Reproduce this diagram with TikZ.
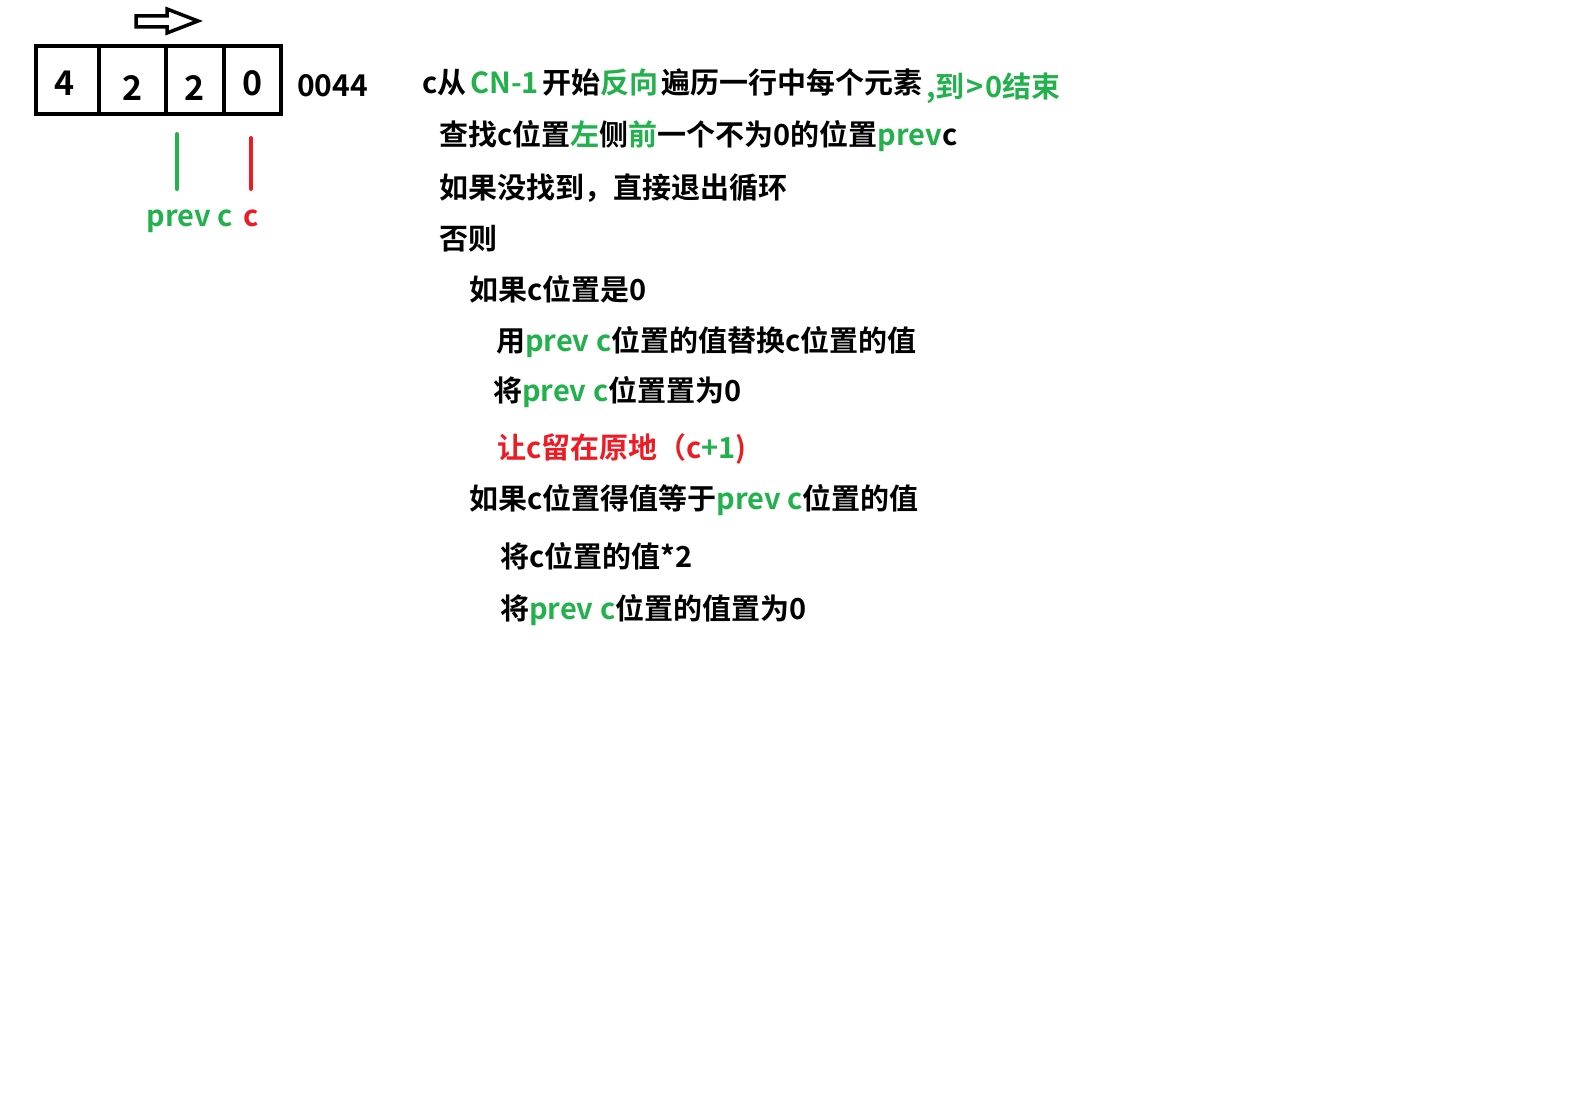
\documentclass[tikz,border=0pt]{standalone}
\usepackage{fontspec}
\setmainfont{Noto Sans CJK SC}[BoldFont={Noto Sans CJK SC Bold}]
\usetikzlibrary{positioning}
\definecolor{pgreen}{RGB}{34,177,76}
\definecolor{pred}{RGB}{237,28,36}
\newcommand{\gr}[1]{\textcolor{pgreen}{#1}}
\newcommand{\rd}[1]{\textcolor{pred}{#1}}

\begin{document}
\begin{tikzpicture}[x=1pt, y=-1pt,
    cell/.style={draw, line width=4pt, minimum height=68pt, inner sep=0pt},
    num/.style={font=\fontsize{34}{40}\selectfont\bfseries, inner sep=0pt},
    txt/.style={anchor=base west, inner sep=0pt, font=\fontsize{29}{34}\selectfont\bfseries},
    marker/.style={line width=4pt, line cap=round}]

    \useasboundingbox (0,0) rectangle (1586,1094);

    % the row of cells
    \node[cell, minimum width=63pt] (c1) at (67.5,80) {};
    \node[cell, minimum width=67pt] (c2) at (132.5,80) {};
    \node[cell, minimum width=58pt] (c3) at (195,80) {};
    \node[cell, minimum width=57pt] (c4) at (252.5,80) {};
    \node[num] (n1) at ([xshift=-3pt, yshift=-3pt]c1.center) {4};
    \node[num] (n2) at ([yshift=-8pt]c2.center) {2};
    \node[num] (n3) at ([yshift=-8pt]c3.center) {2};
    \node[num] (n4) at ([yshift=-3pt]c4.center) {0};
    \node[txt, anchor=west, font=\fontsize{30}{36}\selectfont\bfseries] (sum) at (297,86) {0044};

    % direction arrow
    \draw[line width=3.5pt, line join=miter] (136,16) -- (167,16) -- (167,9) -- (198,21)
        -- (167,33) -- (167,27) -- (136,27) -- cycle;

    % pointers
    \node[txt, anchor=base, text=pgreen] (prevlbl) at (190,226) {prev c};
    \node[txt, anchor=base, text=pred] (clbl) at (251,226) {c};
    \coordinate (prevtop) at (177,134);
    \coordinate (prevbot) at (177,189);
    \coordinate (ctop) at (251,138);
    \coordinate (cbot) at (251,189);
    \draw[marker, pgreen] (prevtop) -- (prevbot);
    \draw[marker, pred] (ctop) -- (cbot);

    % the steps
    \node[txt] (loop) at (422,94) {c从\hspace{4pt}\gr{CN-1}\hspace{3pt}开始\gr{反向}\hspace{3pt}遍历一行中每个元素\hspace{4pt}\raisebox{-4pt}{\gr{,到\hspace{2pt}>\hspace{2pt}0结束}}};
    \node[txt] (find) at (439,146) {查找c位置\gr{左}侧\gr{前}一个不为0的位置\gr{prev}c};
    \node[txt] (notfound) at (439,198) {如果没找到，直接退出循环};
    \node[txt] (otherwise) at (439,249) {否则};
    \node[txt] (ifzero) at (469,300) {如果c位置是0};
    \node[txt] (replace) at (496,351) {用\gr{prev c}位置的值替换c位置的值};
    \node[txt] (clear) at (493,401) {将\gr{prev c}位置置为0};
    \node[txt] (stay) at (497,458) {\rd{让c留在原地（c}\gr{+1}\rd{)}};
    \node[txt] (ifequal) at (469,509) {如果c位置得值等于\gr{prev c}位置的值};
    \node[txt] (double) at (500,567) {将c位置的值*2};
    \node[txt] (reset) at (500,619) {将\gr{prev c}位置的值置为0};
\end{tikzpicture}
\end{document}
